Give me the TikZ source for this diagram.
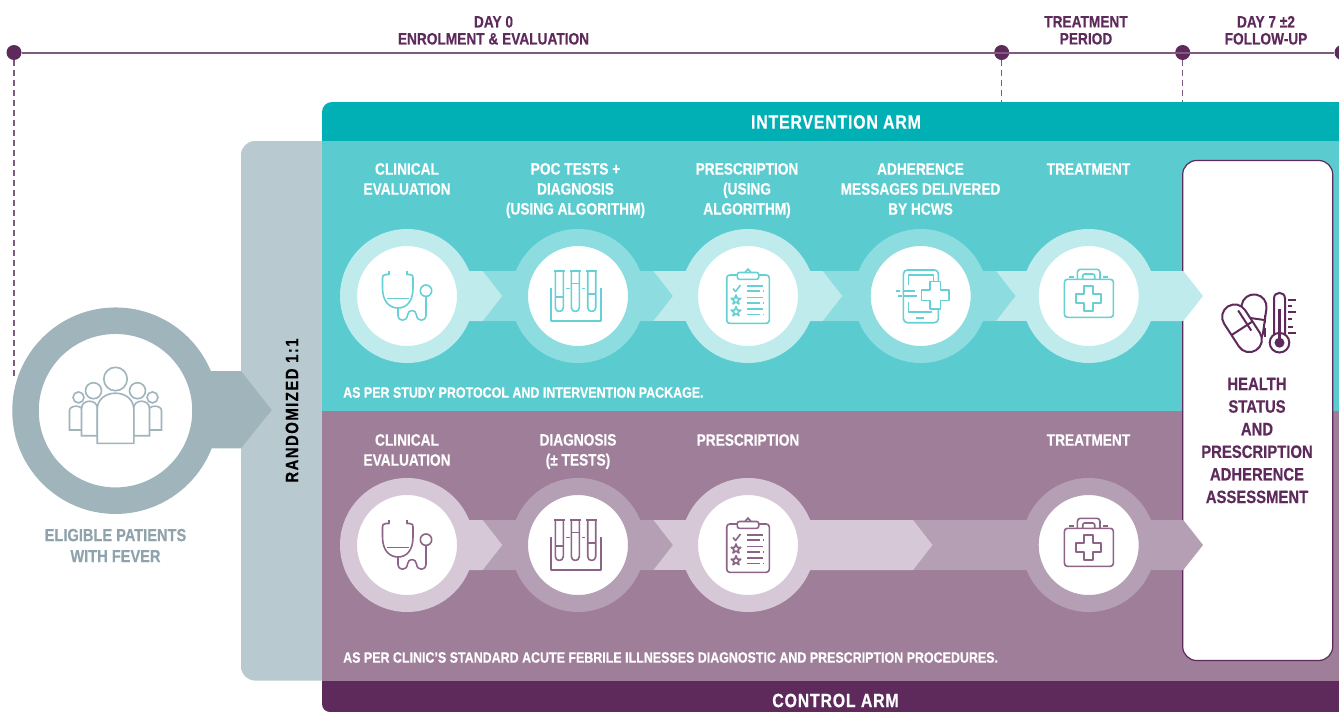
\documentclass[tikz,border=0pt]{standalone}
\usepackage{fontspec}
\setmainfont{Liberation Sans}[FakeStretch=0.83,BoldFeatures={FakeBold=0.35}]
\usepackage{tikz}
\usetikzlibrary{calc}

\definecolor{darkteal}{HTML}{00B0B5}
\definecolor{panelteal}{HTML}{5ACBCF}
\definecolor{midteal}{HTML}{8DDDE0}
\definecolor{lightteal}{HTML}{BFEBED}
\definecolor{icteal}{HTML}{66D0D4}
\definecolor{darkplum}{HTML}{5E2A5C}
\definecolor{panelplum}{HTML}{9F7E9A}
\definecolor{midplum}{HTML}{B59FB5}
\definecolor{lightplum}{HTML}{D6C8D7}
\definecolor{icplum}{HTML}{8C6488}
\definecolor{lineplum}{HTML}{7F5A80}
\definecolor{panelgrey}{HTML}{B9C9D0}
\definecolor{ringgrey}{HTML}{A0B4BC}
\definecolor{textgrey}{HTML}{8EA3AC}

\tikzset{
  dotnode/.style={circle,fill=darkplum,inner sep=0pt,minimum size=15pt},
  stepring/.style={circle,inner sep=0pt,minimum size=117pt,line width=17pt,fill=white},
  headtxt/.style={text=darkplum,font=\fontsize{16.5}{17}\selectfont\bfseries,align=center,inner sep=0pt},
  steptxt/.style={text=white,font=\fontsize{16.5}{20}\selectfont\bfseries,align=center,inner sep=0pt},
  notetxt/.style={text=white,font=\fontsize{15}{17}\selectfont\bfseries,anchor=west,inner sep=0pt},
  armtxt/.style={text=white,font=\fontsize{19.2}{20}\selectfont\bfseries\addfontfeature{LetterSpace=4},inner sep=0pt},
  tealicon/.style={draw=icteal,line width=1.6pt,line join=round},
  plumicon/.style={draw=icplum,line width=1.6pt,line join=round},
  stethicon/.pic={
    \draw[pic actions] (-18,-25) -- (-18,-21.5) -- (-21,-21.5) .. controls (-24,-21.5) and (-24.5,-20) .. (-24.5,-18) -- (-24.5,-8) .. controls (-24.5,6) and (-17,12) .. (-9,12) .. controls (-1,12) and (6,6) .. (6,-8) -- (6,-18) .. controls (6,-20) and (5.5,-21.5) .. (3,-21.5) -- (0,-21.5) -- (0,-25);
    \draw[pic actions] (-20,2.3) -- (2,2.3);
    \draw[pic actions] (-9,12) -- (-9,19) .. controls (-9,26) and (0,26) .. (0.5,19) .. controls (1,13) and (9,13) .. (9.5,19) .. controls (10,26) and (19,26) .. (19,19) -- (19,0.5);
    \draw[pic actions] (19,-5.3) circle (5.7);
  },
  tubeicon/.pic={
    \foreach \tx/\ty in {-18.7/0.7,-2.7/-12.7,13.7/-2}{
      \draw[pic actions] (\tx-5.5,-25.3) -- (\tx+5.5,-25.3);
      \draw[pic actions] (\tx-4,-25.3) -- (\tx-4,11.5) .. controls (\tx-4,16.8) and (\tx+4,16.8) .. (\tx+4,11.5) -- (\tx+4,-25.3);
      \draw[pic actions] (\tx-4,\ty) -- (\tx+4,\ty);
    }
    \draw[pic actions] (-27.3,-7.7) -- (-27.3,24.7) -- (22.7,24.7) -- (22.7,-7.7);
    \draw[pic actions] (-12,-7.7) -- (-8,-7.7);
    \draw[pic actions] (4.3,-7.7) -- (7.3,-7.7);
  },
  clipicon/.pic={
    \draw[pic actions,rounded corners=3pt] (-21.3,-21) rectangle (21.3,27.3);
    \filldraw[pic actions,fill=white,rounded corners=2pt] (-10.7,-16.7) rectangle (10.7,-23.5);
    \draw[pic actions] (-3,-23.5) -- (0,-27) -- (3,-23.5);
    \draw[pic actions] (-15,-7.5) -- (-12.5,-4.5) -- (-7.5,-11);
    \foreach \sy in {4,15.7}{
      \draw[pic actions,shift={(-12,\sy)}] (0,-5) -- (1.3,-1.6) -- (4.8,-1.5) -- (2,0.6) -- (3,4) -- (0,2) -- (-3,4) -- (-2,0.6) -- (-4.8,-1.5) -- (-1.3,-1.6) -- cycle;
    }
    \foreach \ly/\lx in {-10/15,-5.3/12,1.3/15,6.7/12,13/15,18.3/12}{
      \draw[pic actions] (-0.7,\ly) -- (\lx,\ly);
    }
    \foreach \ly in {-5.3,6.7,18.3}{
      \draw[pic actions] (15,\ly) -- (16.2,\ly);
    }
  },
  tableticon/.pic={
    \draw[pic actions,rounded corners=4pt] (-17.3,-26) rectangle (17.7,26.7);
    \draw[pic actions] (-12.3,-11) -- (-12.3,-21) -- (12.7,-21) -- (12.7,-15);
    \draw[pic actions] (-12.3,5.7) -- (-12.3,15.7) -- (11,15.7);
    \draw[pic actions] (-4.7,21.7) -- (3.7,21.7);
    \filldraw[pic actions,fill=white] (9,-14.7) -- (19.6,-14.7) -- (19.6,-6.3) -- (28,-6.3) -- (28,4.3) -- (19.6,4.3) -- (19.6,12.7) -- (9,12.7) -- (9,4.3) -- (0.6,4.3) -- (0.6,-6.3) -- (9,-6.3) -- cycle;
    \draw[pic actions] (-24.7,-5) -- (-20.7,-5);
    \draw[pic actions] (-18,-5) -- (-5.7,-5);
    \draw[pic actions] (-22.3,0) -- (-19,0);
    \draw[pic actions] (-16.7,0) -- (-4,0);
  },
  kiticon/.pic={
    \draw[pic actions,rounded corners=3pt] (-24.3,-16.7) rectangle (24.7,21.3);
    \draw[pic actions,rounded corners=3pt] (-11.3,-16.7) -- (-11.3,-26.7) -- (11.3,-26.7) -- (11.3,-16.7);
    \draw[pic actions,rounded corners=2pt] (-6,-16.7) -- (-6,-22) -- (6,-22) -- (6,-16.7);
    \draw[pic actions] (-19.3,-19.3) -- (-14.7,-19.3);
    \draw[pic actions] (14.7,-19.3) -- (19.7,-19.3);
    \draw[pic actions] (-4.5,-10.2) -- (4.5,-10.2) -- (4.5,-2.2) -- (12.5,-2.2) -- (12.5,6.8) -- (4.5,6.8) -- (4.5,14.8) -- (-4.5,14.8) -- (-4.5,6.8) -- (-12.5,6.8) -- (-12.5,-2.2) -- (-4.5,-2.2) -- cycle;
  },
  peopleicon/.pic={
    \foreach \sx in {-1,1}{
      \draw[pic actions] (\sx*37,-13.3) circle (5.5);
      \filldraw[pic actions,fill=white] (\sx*46,19.3) -- (\sx*46,0) .. controls (\sx*46,-6) and (\sx*33,-6) .. (\sx*33,0) -- (\sx*33,19.3) -- cycle;
      \draw[pic actions] (\sx*22,-20) circle (8);
      \filldraw[pic actions,fill=white] (\sx*34,25) -- (\sx*34,-2) .. controls (\sx*34,-12) and (\sx*18,-12) .. (\sx*18,-2) -- (\sx*18,25) -- cycle;
    }
    \draw[pic actions] (0,-31.7) circle (11.7);
    \filldraw[pic actions,fill=white] (-18.3,32.7) -- (-18.3,-1) .. controls (-18.3,-23) and (18.3,-23) .. (18.3,-1) -- (18.3,32.7) -- cycle;
  },
  healthicon/.pic={
    \begin{scope}[shift={(-4.7,-5.7)},rotate=-8]
      \filldraw[pic actions,fill=white,rounded corners=12.4pt] (-12.5,-25) rectangle (12.5,25);
      \draw[pic actions] (-12.5,-1) -- (12.5,-1);
    \end{scope}
    \draw[pic actions] (8.3,-10.5) -- (8.3,-2.5);
    \draw[pic actions] (8.3,2.5) -- (8.3,12);
    \begin{scope}[shift={(-15,3.3)},rotate=33]
      \filldraw[pic actions,fill=white,rounded corners=12.4pt] (-12.5,-26) rectangle (12.5,26);
      \draw[pic actions] (-12.5,0) -- (12.5,0);
      \draw[pic actions] (6.5,-17) -- (6.5,7);
    \end{scope}
    \draw[pic actions] (17,12) -- (17,-26.5) .. controls (17,-34) and (28,-34) .. (28,-26.5) -- (28,12);
    \filldraw[pic actions,fill=white] (22.5,17.7) circle (9.8);
    \fill[darkplum] (22.5,17.7) circle (5);
    \draw[darkplum,line width=2.6pt] (22.5,17.7) -- (22.5,-16);
    \foreach \ty/\tx in {-25/39,-19/35,-13/39,-5.7/35,1.7/36,7.7/39}{
      \draw[pic actions] (31.2,\ty+0) -- (\tx,\ty+0);
    }
  },
}

\newcommand{\stepband}[6]{% from, to, base length, tip length, arrow colour, band colour
  \fill[#6] (#1) ++(0,-25) rectangle ($(#2)+(0,25)$);
  \fill[#5] (#1) ++(0,-25) -- ++(#3,0) -- ++(#4,25) -- ++(-#4,25) -- ++(-#3,0) -- cycle;
}

\begin{document}
\begin{tikzpicture}[x=1pt,y=-1pt]
  \clip (0,0) rectangle (1339,712);

  % timeline
  \node[dotnode] (dotA) at (14,52.5) {};
  \node[dotnode] (dotB) at (1001.7,52.5) {};
  \node[dotnode] (dotC) at (1182.7,52.5) {};
  \node[dotnode] (dotD) at (1342,52.5) {};
  \coordinate (dropA) at (14,380);
  \coordinate (dropB) at (1001.7,102);
  \coordinate (dropC) at (1182.7,102);
  \draw[lineplum,line width=2pt] (dotA) -- (dotD);
  \draw[lineplum,line width=1.2pt,dash pattern=on 6pt off 4pt] (dotA) -- (dropA);
  \draw[lineplum,line width=1.2pt,dash pattern=on 6pt off 4pt] (dotB) -- (dropB);
  \draw[lineplum,line width=1.2pt,dash pattern=on 6pt off 4pt] (dotC) -- (dropC);
  \node[headtxt] (headA) at (493.5,30.3) {DAY 0\\ENROLMENT \& EVALUATION};
  \node[headtxt] (headB) at (1086,30.3) {TREATMENT\\PERIOD};
  \node[headtxt] (headC) at (1266,30.3) {DAY 7 ±2\\FOLLOW-UP};

  % panels
  \fill[panelgrey] (322,141) [rounded corners=14pt] -- (241,141) -- (241,680.5) [sharp corners] -- (322,680.5) -- cycle;
  \fill[darkteal] (322,141) [rounded corners=10pt] -- (322,102) [sharp corners] -- (1339,102) -- (1339,141) -- cycle;
  \fill[panelteal] (322,141) rectangle (1339,411);
  \fill[panelplum] (322,411) rectangle (1339,681);
  \fill[darkplum] (322,681) [rounded corners=8pt] -- (322,712) [sharp corners] -- (1339,712) -- (1339,681) -- cycle;
  \filldraw[draw=darkplum,fill=white,line width=1.2pt,rounded corners=14pt] (1182.7,160.5) rectangle (1332.7,660.5);
  \node[armtxt] (armA) at (836,122) {INTERVENTION ARM};
  \node[armtxt] (armB) at (835.5,700.5) {CONTROL ARM};
  \node[rotate=90,text=black,inner sep=0pt,font=\fontsize{18}{18}\selectfont\bfseries\addfontfeature{LetterSpace=8}] (randA) at (292,410.5) {RANDOMIZED 1:1};

  % patients
  \fill[ringgrey] (205,371) -- (241,371) -- (271.7,410) -- (241,448.3) -- (205,448.3) -- cycle;
  \node[circle,inner sep=0pt,minimum size=180pt,line width=26.5pt,draw=ringgrey,fill=white] (patients) at (115.5,410.7) {};
  \pic[draw=ringgrey,line width=1.6pt] at (patients) {peopleicon};
  \node[text=textgrey,font=\fontsize{17.6}{21}\selectfont\bfseries,align=center,inner sep=0pt] (patientstxt) at (115.5,545.5) {ELIGIBLE PATIENTS\\WITH FEVER};

  % intervention arm
  \coordinate (posA) at (407,296);
  \coordinate (posB) at (578,296);
  \coordinate (posC) at (748,296);
  \coordinate (posD) at (920.7,296);
  \coordinate (posE) at (1088.7,296);
  \stepband{posA}{posB}{75.7}{19.5}{lightteal}{midteal}
  \stepband{posB}{posC}{75.3}{19.5}{midteal}{lightteal}
  \stepband{posC}{posD}{74.7}{19.5}{lightteal}{midteal}
  \stepband{posD}{posE}{75.3}{19.5}{midteal}{lightteal}
  \fill[lightteal] (posE) ++(0,-25) -- ++(94.6,0) -- ++(19.7,25) -- ++(-19.7,25) -- ++(-94.6,0) -- cycle;
  \node[stepring,draw=lightteal] (ringA) at (posA) {};
  \node[stepring,draw=midteal] (ringB) at (posB) {};
  \node[stepring,draw=lightteal] (ringC) at (posC) {};
  \node[stepring,draw=midteal] (ringD) at (posD) {};
  \node[stepring,draw=lightteal] (ringE) at (posE) {};
  \pic[tealicon] at (ringA) {stethicon};
  \pic[tealicon] at (ringB) {tubeicon};
  \pic[tealicon] at (ringC) {clipicon};
  \pic[tealicon] at (ringD) {tableticon};
  \pic[tealicon] at (ringE) {kiticon};
  \node[steptxt] (txtA) at (407,179) {CLINICAL\\EVALUATION};
  \node[steptxt] (txtB) at (575.5,190.5) {POC TESTS +\\DIAGNOSIS\\(USING ALGORITHM)};
  \node[steptxt] (txtC) at (747,190.5) {PRESCRIPTION\\(USING\\ALGORITHM)};
  \node[steptxt] (txtD) at (920.5,189) {ADHERENCE\\MESSAGES DELIVERED\\BY HCWS};
  \node[steptxt] (txtE) at (1088.5,169) {TREATMENT};
  \node[notetxt] (noteA) at (343,392.5) {AS PER STUDY PROTOCOL AND INTERVENTION PACKAGE.};

  % control arm
  \coordinate (posF) at (407,545);
  \coordinate (posG) at (578,545);
  \coordinate (posH) at (748,545);
  \coordinate (posI) at (1088.7,545);
  \stepband{posF}{posG}{75.7}{19.5}{lightplum}{midplum}
  \stepband{posG}{posH}{75.3}{19.5}{midplum}{lightplum}
  \stepband{posH}{posI}{165}{19.5}{lightplum}{midplum}
  \fill[midplum] (posI) ++(0,-25) -- ++(94.6,0) -- ++(19.7,25) -- ++(-19.7,25) -- ++(-94.6,0) -- cycle;
  \node[stepring,draw=lightplum] (ringF) at (posF) {};
  \node[stepring,draw=midplum] (ringG) at (posG) {};
  \node[stepring,draw=lightplum] (ringH) at (posH) {};
  \node[stepring,draw=midplum] (ringI) at (posI) {};
  \pic[plumicon] at (ringF) {stethicon};
  \pic[plumicon] at (ringG) {tubeicon};
  \pic[plumicon] at (ringH) {clipicon};
  \pic[plumicon] at (ringI) {kiticon};
  \node[steptxt] (txtF) at (407,450) {CLINICAL\\EVALUATION};
  \node[steptxt] (txtG) at (578,451.5) {DIAGNOSIS\\(± TESTS)};
  \node[steptxt] (txtH) at (748,440) {PRESCRIPTION};
  \node[steptxt] (txtI) at (1088.5,440) {TREATMENT};
  \node[notetxt] (noteB) at (343,657.5) {AS PER CLINIC'S STANDARD ACUTE FEBRILE ILLNESSES DIAGNOSTIC AND PRESCRIPTION PROCEDURES.};

  % assessment box
  \pic[draw=darkplum,line width=2pt] at (1257,325) {healthicon};
  \node[text=darkplum,font=\fontsize{17.9}{22.6}\selectfont\bfseries,align=center,inner sep=0pt] (boxtxt) at (1257,440.5) {HEALTH\\STATUS\\AND\\PRESCRIPTION\\ADHERENCE\\ASSESSMENT};
\end{tikzpicture}
\end{document}
